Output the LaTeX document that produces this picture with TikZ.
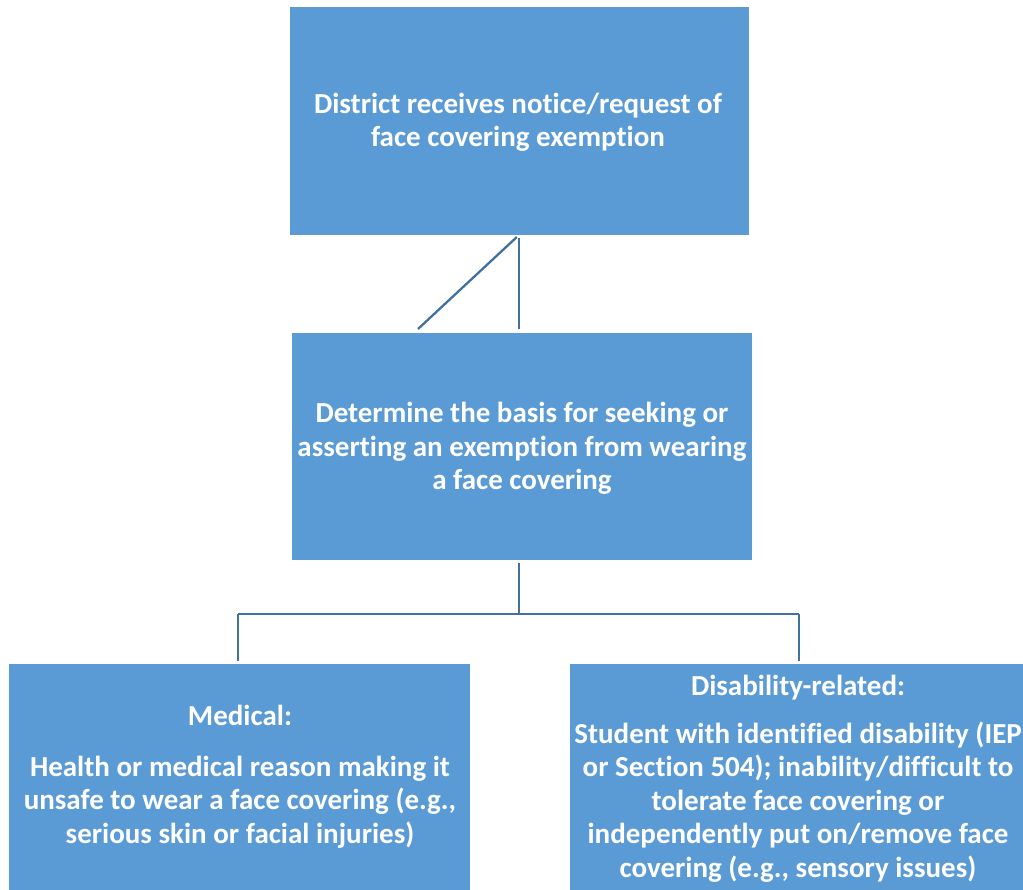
\documentclass[tikz,border=0pt]{standalone}
\usepackage{fontspec}
\setmainfont[Ligatures=NoCommon]{Carlito}
\definecolor{boxblue}{HTML}{5B9BD5}
\definecolor{lineblue}{HTML}{41719C}
\begin{document}
\begin{tikzpicture}[x=1pt,y=-1pt,
  box/.style={fill=boxblue, draw=none, inner sep=0pt},
  label/.style={text=white, font=\bfseries\fontsize{29}{33.5}\selectfont, align=center, inner sep=0pt},
  conn/.style={draw=lineblue, line width=2.3pt}]
\useasboundingbox (0,0) rectangle (1023,890);
\node[box, minimum width=459pt, minimum height=228pt] (top) at (519.5,121) {};
\node[label] (toptext) at (518,122.5) {District receives notice/request of\\face covering exemption};
\node[box, minimum width=460pt, minimum height=227pt] (mid) at (522,446.5) {};
\node[label] (midtext) at (522,448.5) {Determine the basis for seeking or\\asserting an exemption from wearing\\a face covering};
\node[box, minimum width=461pt, minimum height=226pt] (left) at (239.5,777) {};
\node[label] (lefttext) at (240,777) {Medical:\\[17pt]Health or medical reason making it\\unsafe to wear a face covering (e.g.,\\serious skin or facial injuries)};
\node[box, minimum width=453pt, minimum height=226pt] (right) at (796.5,777) {};
\node[label] (righttext) at (798,779) {Disability-related:\\[14pt]Student with identified disability (IEP\\or Section 504); inability/difficult to\\tolerate face covering or\\independently put on/remove face\\covering (e.g., sensory issues)};
\coordinate (ts) at (519,235);
\coordinate (diag) at (418,329);
\coordinate (hub) at (519,614);
\coordinate (lj) at (238,614);
\coordinate (rj) at (799,614);
\draw[conn, shorten <=3pt, shorten >=4pt] (ts) -- (ts |- mid.north);
\draw[conn, shorten <=3pt] (ts) -- (diag);
\draw[conn, shorten <=3pt] (ts |- mid.south) -- (hub);
\draw[conn] (lj) -- (rj);
\draw[conn, shorten >=3pt] (lj) -- (lj |- left.north);
\draw[conn, shorten >=3pt] (rj) -- (rj |- right.north);
\end{tikzpicture}
\end{document}
